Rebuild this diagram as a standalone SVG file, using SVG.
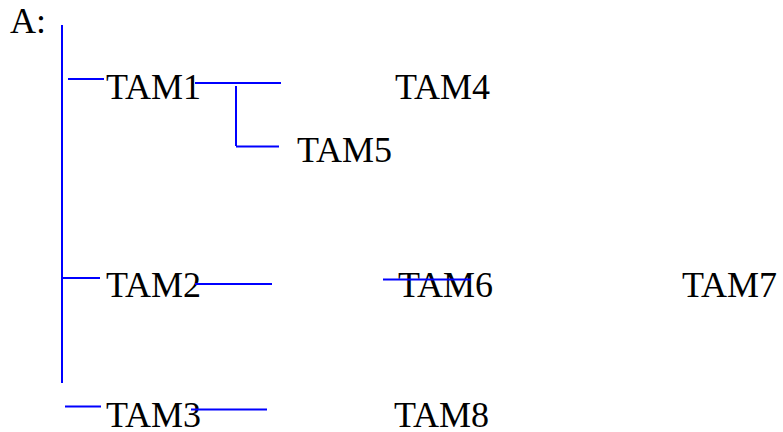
<svg xmlns="http://www.w3.org/2000/svg" width="783" height="432" viewBox="0 0 783 432">
<style>
text{font-family:"Liberation Serif","Times New Roman",serif;font-size:36px;fill:#000}
.c line{stroke:#0000FF;stroke-width:2}
</style>
<rect width="783" height="432" fill="#fff"/>
<g id="nodeA"><text x="10" y="33">A:</text></g>
<g id="tam1"><text x="106" y="99">TAM1</text></g>
<g id="tam4"><text x="395" y="99">TAM4</text></g>
<g id="tam5"><text x="297" y="162">TAM5</text></g>
<g id="tam2"><text x="106" y="297">TAM2</text></g>
<g id="tam6"><text x="398" y="297">TAM6</text></g>
<g id="tam7"><text x="682" y="297">TAM7</text></g>
<g id="tam3"><text x="106" y="427">TAM3</text></g>
<g id="tam8"><text x="394" y="427">TAM8</text></g>
<g class="c" id="connectors">
<line x1="62" y1="25" x2="62" y2="383"/>
<line x1="68" y1="79" x2="104" y2="79"/>
<line x1="195" y1="83" x2="281" y2="83"/>
<line x1="236" y1="86" x2="236" y2="146"/>
<line x1="236" y1="146.5" x2="279" y2="146.5"/>
<line x1="62" y1="278" x2="100" y2="278"/>
<line x1="195" y1="284" x2="272" y2="284"/>
<line x1="383" y1="279.5" x2="471" y2="279.5"/>
<line x1="65" y1="406.5" x2="101" y2="406.5"/>
<line x1="191" y1="409.5" x2="267" y2="409.5"/>
</g>
</svg>
